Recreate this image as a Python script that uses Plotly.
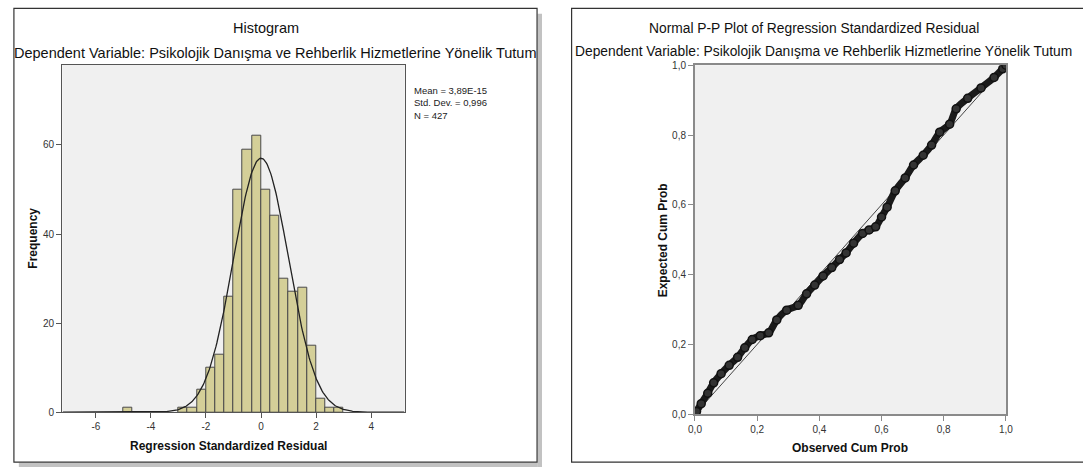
import numpy as np
import plotly.graph_objects as go

# ---------------- data ----------------
bin_left = [-5.0, -3.0, -2.6667, -2.3333, -2.0, -1.6667, -1.3333, -1.0, -0.6667,
            -0.3333, 0.0, 0.3333, 0.6667, 1.0, 1.3333, 1.6667, 2.0, 2.3333, 2.6667]
counts = [1, 1, 1, 5, 10, 13, 26, 50, 59, 62, 50, 44, 30, 27, 28, 15, 3, 1, 1]
bin_width = 1 / 3

stat_mean = 3.89e-15
stat_sd = 0.996
stat_n = 427

hist_xticks = [-6, -4, -2, 0, 2, 4]
hist_xticktext = ["-6", "-4", "-2", "0", "2", "4"]
hist_yticks = [0, 20, 40, 60]

pp_observed = [0.0, 0.005, 0.02, 0.041, 0.06, 0.084, 0.11, 0.137, 0.16, 0.184, 0.21,
               0.237, 0.263, 0.295, 0.332, 0.359, 0.385, 0.412, 0.44, 0.465, 0.486,
               0.51, 0.539, 0.56, 0.581, 0.60, 0.618, 0.644, 0.676, 0.703, 0.734,
               0.761, 0.787, 0.819, 0.84, 0.877, 0.92, 0.962, 0.99, 1.0]
pp_expected = [0.0, 0.008, 0.03, 0.06, 0.09, 0.116, 0.14, 0.163, 0.19, 0.214, 0.225,
               0.233, 0.27, 0.298, 0.312, 0.345, 0.37, 0.396, 0.42, 0.443, 0.462,
               0.49, 0.518, 0.528, 0.537, 0.565, 0.593, 0.640, 0.677, 0.714, 0.742,
               0.771, 0.808, 0.831, 0.875, 0.905, 0.935, 0.965, 0.99, 1.0]
pp_ticks = [0.0, 0.2, 0.4, 0.6, 0.8, 1.0]

title_hist = "Histogram"
title_pp = "Normal P-P Plot of Regression Standardized Residual"
subtitle = "Dependent Variable: Psikolojik Danışma ve Rehberlik Hizmetlerine Yönelik Tutum"

# ---------------- figure ----------------
W, H = 1083, 474
FONT = "Liberation Sans, Arial, sans-serif"


def px(x):
    return x / W


def py(y):
    return 1 - y / H


fig = go.Figure()

# histogram bars
fig.add_trace(go.Bar(
    x=bin_left, y=counts, width=bin_width, offset=0,
    marker=dict(color="#d4cf98", line=dict(color="#4a4a4a", width=1)),
    xaxis="x", yaxis="y", showlegend=False, hoverinfo="x+y"))

# normal curve from stated parameters
xc = np.linspace(-7.2, 5.2, 400)
yc = stat_n * bin_width * np.exp(-0.5 * ((xc - stat_mean) / stat_sd) ** 2) / (stat_sd * np.sqrt(2 * np.pi))
fig.add_trace(go.Scatter(x=xc, y=yc, mode="lines", line=dict(color="#222222", width=1.3),
                         xaxis="x", yaxis="y", showlegend=False, hoverinfo="skip"))

# P-P reference diagonal
fig.add_trace(go.Scatter(x=[0, 1], y=[0, 1], mode="lines", line=dict(color="#444444", width=1),
                         xaxis="x2", yaxis="y2", showlegend=False, hoverinfo="skip"))
# P-P points
fig.add_trace(go.Scatter(x=pp_observed, y=pp_expected, mode="lines+markers",
                         line=dict(color="#1a1a1a", width=7, shape="spline"),
                         marker=dict(size=8, color="#333333", line=dict(color="#111111", width=1.5)),
                         xaxis="x2", yaxis="y2", showlegend=False))

tickfont = dict(family=FONT, size=10, color="#333333")
axis_common = dict(showgrid=False, zeroline=False, showline=True, mirror=True,
                   ticks="outside", ticklen=5, tickfont=tickfont)

fig.update_layout(
    autosize=True,
    margin=dict(l=0, r=0, t=0, b=0),
    paper_bgcolor="white", plot_bgcolor="#f0f0f0",
    separators=",.",
    font=dict(family=FONT, color="#111111"),
    bargap=0,
    xaxis=dict(domain=[px(56), px(403)], range=[-7.22, 5.22], tickvals=hist_xticks,
               ticktext=hist_xticktext, linecolor="#555555", linewidth=1.2, tickcolor="#555555",
               anchor="y", **axis_common),
    yaxis=dict(domain=[py(416), py(61)], range=[0, 78], tickvals=hist_yticks,
               linecolor="#555555", linewidth=1.2, tickcolor="#555555", anchor="x", **axis_common),
    xaxis2=dict(domain=[px(697), px(1012)], range=[0, 1], tickvals=pp_ticks, tickformat=".1f",
                linecolor="#8a8a8a", linewidth=2, tickcolor="#8a8a8a", anchor="y2", **axis_common),
    yaxis2=dict(domain=[py(418), py(61.5)], range=[0, 1], tickvals=pp_ticks, tickformat=".1f",
                linecolor="#8a8a8a", linewidth=2, tickcolor="#8a8a8a", anchor="x2", **axis_common),
)

shapes = []
# drop shadow of left panel
shapes.append(dict(type="rect", xref="paper", yref="paper", x0=px(537.5), x1=px(542),
                   y0=py(472), y1=py(9), fillcolor="rgba(120,120,120,0.45)", line=dict(width=0)))
shapes.append(dict(type="rect", xref="paper", yref="paper", x0=px(12), x1=px(537.5),
                   y0=py(472), y1=py(467.5), fillcolor="rgba(120,120,120,0.45)", line=dict(width=0)))
# panel borders
shapes.append(dict(type="rect", xref="paper", yref="paper", x0=px(7), x1=px(537),
                   y0=py(467), y1=py(3.5), line=dict(color="#333333", width=1.2)))
shapes.append(dict(type="rect", xref="paper", yref="paper", x0=px(572), x1=px(1095),
                   y0=py(467), y1=py(3.5), line=dict(color="#333333", width=1.2)))
fig.update_layout(shapes=shapes)

ann = []
ann.append(dict(text=title_hist, x=px(262), y=py(24), xref="paper", yref="paper",
                showarrow=False, font=dict(size=14.5, color="#111111"), xanchor="center", yanchor="middle"))
ann.append(dict(text=subtitle, x=px(272), y=py(49), xref="paper", yref="paper",
                showarrow=False, font=dict(size=14.5, color="#111111"), xanchor="center", yanchor="middle"))
ann.append(dict(text=title_pp, x=px(818), y=py(24), xref="paper", yref="paper",
                showarrow=False, font=dict(size=13.8, color="#111111"), xanchor="center", yanchor="middle"))
ann.append(dict(text=subtitle, x=px(573), y=py(48), xref="paper", yref="paper",
                showarrow=False, font=dict(size=13.8, color="#111111"), xanchor="left", yanchor="middle"))
ann.append(dict(text="Mean = 3,89E-15<br>Std. Dev. = 0,996<br>N = " + str(stat_n),
                x=px(410), y=py(80), xref="paper", yref="paper", showarrow=False, align="left",
                font=dict(size=9.5, color="#222222"), xanchor="left", yanchor="top"))
ann.append(dict(text="<b>Regression Standardized Residual</b>", x=px(224), y=py(451), xref="paper",
                yref="paper", showarrow=False, font=dict(size=12, color="#111111"),
                xanchor="center", yanchor="middle"))
ann.append(dict(text="<b>Frequency</b>", x=px(26), y=py(238), xref="paper", yref="paper",
                showarrow=False, textangle=-90, font=dict(size=12, color="#111111"),
                xanchor="center", yanchor="middle"))
ann.append(dict(text="<b>Observed Cum Prob</b>", x=px(854), y=py(453), xref="paper", yref="paper",
                showarrow=False, font=dict(size=12, color="#111111"), xanchor="center", yanchor="middle"))
ann.append(dict(text="<b>Expected Cum Prob</b>", x=px(665), y=py(240), xref="paper", yref="paper",
                showarrow=False, textangle=-90, font=dict(size=12, color="#111111"),
                xanchor="center", yanchor="middle"))
fig.update_layout(annotations=ann)

fig.write_html(
    "out.html",
    default_width="100vw",
    default_height="100vh",
    config={"displayModeBar": False, "responsive": True},
    post_script="document.documentElement.style.margin='0px';document.body.style.margin='0px';"
                "document.body.style.overflow='hidden';document.documentElement.style.overflow='hidden';"
                "window.dispatchEvent(new Event('resize'));",
)
